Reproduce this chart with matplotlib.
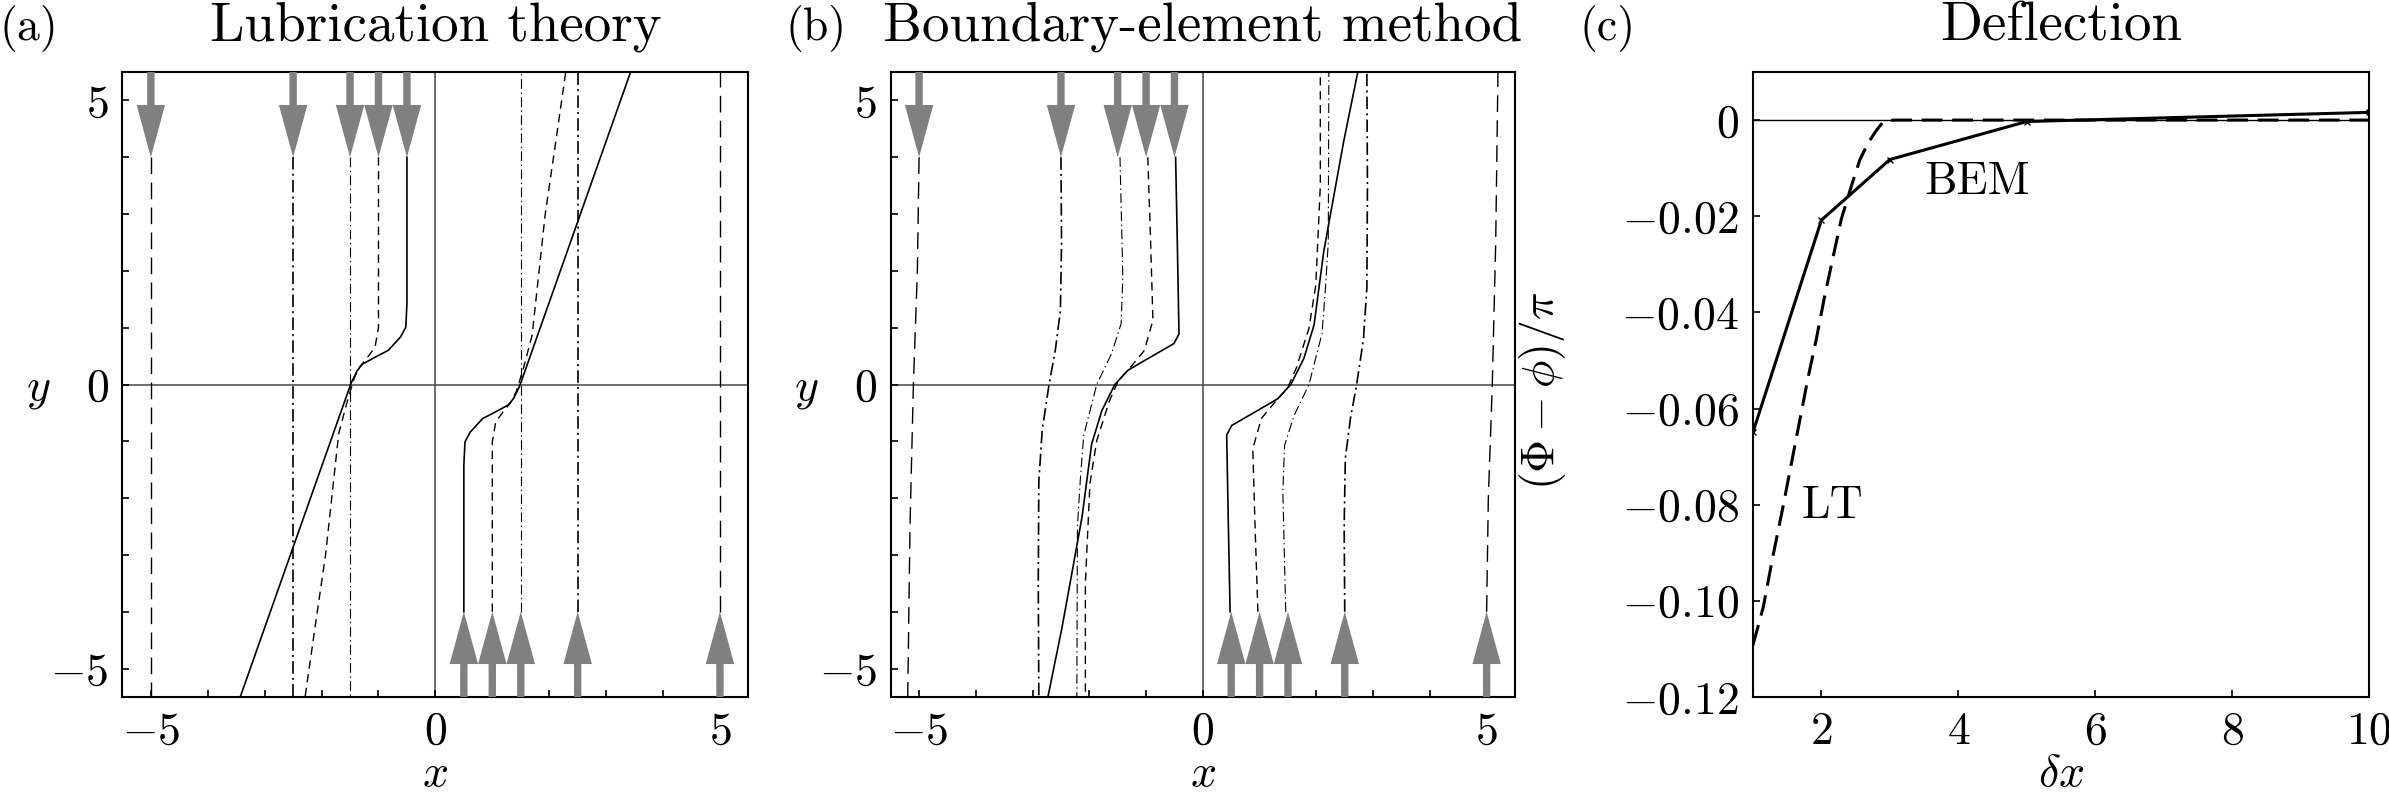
import matplotlib
matplotlib.use("Agg")
import matplotlib.pyplot as plt
from matplotlib.patches import FancyArrow

plt.rcParams['font.family'] = 'cmr10'
plt.rcParams['mathtext.fontset'] = 'cm'
plt.rcParams['axes.formatter.use_mathtext'] = True
plt.rcParams['lines.scale_dashes'] = False
plt.rcParams['font.size'] = 33

# particle separations
dx_list = [1, 2, 3, 5, 10]

# trajectories of the particle coming in from the top (x, y);
# the partner from the bottom is the same path turned by 180 degrees
lt_x = {
    1: [-0.5, -0.5, -0.52, -0.61, -0.83, -1.06, -1.28, -1.37, -1.46, -1.49, -3.43],
    2: [-1.0, -1.0, -1.06, -1.19, -1.33, -1.42, -1.46, -1.55, -1.70, -1.93, -2.09, -2.29],
    3: [-1.5, -1.5],
    5: [-2.5, -2.5],
    10: [-5.0, -5.0],
}
lt_y = {
    1: [4.0, 1.42, 1.01, 0.84, 0.6, 0.48, 0.36, 0.25, 0.07, 0.0, -5.5],
    2: [4.0, 1.01, 0.66, 0.48, 0.31, 0.13, 0.0, -0.3, -0.87, -3.0, -4.1, -5.5],
    3: [4.0, -5.5],
    5: [4.0, -5.5],
    10: [4.0, -5.5],
}
bem_x = {
    1: [-0.48, -0.45, -0.42, -0.51, -1.03, -1.32, -1.55, -1.78, -1.96, -2.13, -2.48, -2.73],
    2: [-0.97, -0.92, -0.88, -1.03, -1.32, -1.49, -1.65, -1.87, -1.99, -2.07, -2.07],
    3: [-1.46, -1.41, -1.44, -1.61, -1.87, -2.1, -2.16, -2.21, -2.22],
    5: [-2.5, -2.49, -2.51, -2.6, -2.71, -2.83, -2.89, -2.9, -2.89],
    10: [-5.0, -5.03, -5.1, -5.16, -5.2],
}
bem_y = {
    1: [4.0, 2.5, 0.89, 0.72, 0.42, 0.25, 0.0, -0.46, -1.05, -2.34, -4.27, -5.5],
    2: [4.0, 2.5, 1.13, 0.6, 0.25, 0.07, -0.3, -0.99, -1.75, -3.5, -5.5],
    3: [4.0, 1.89, 1.07, 0.54, 0.0, -0.9, -1.69, -2.5, -5.5],
    5: [4.0, 2.5, 1.3, 0.6, 0.0, -0.8, -1.7, -3.5, -5.5],
    10: [4.0, 2.0, 0.0, -2.5, -5.5],
}

# deflection (Phi - phi)/pi against separation
bem_dx = [1, 2, 3, 5, 10]
bem_dev = [-0.0649, -0.0208, -0.0082, -0.0003, 0.0016]
lt_dx = [1.0, 1.15, 1.29, 1.44, 1.56, 1.68, 1.80, 1.93, 2.05, 2.17, 2.29,
         2.44, 2.56, 2.68, 2.80, 2.90, 3.05, 5.0, 10.0]
lt_dev = [-0.1092, -0.1013, -0.0908, -0.0803, -0.0715, -0.0627, -0.0539,
          -0.0452, -0.0364, -0.0285, -0.0206, -0.0136, -0.0083, -0.0048,
          -0.0022, -0.0004, 0.0, 0.0, 0.0]

styles = {
    1: dict(ls='-', lw=1.2),
    2: dict(ls=(0, (6, 4)), lw=1.0),
    3: dict(ls=(0, (7, 2.5, 1, 2.5)), lw=0.8),
    5: dict(ls=(0, (9, 3, 1.5, 3)), lw=1.2),
    10: dict(ls=(0, (12, 6)), lw=1.0),
}

W, H = 2389, 796
fig = plt.figure(figsize=(W / 100, H / 100), dpi=100)
bot = (H - 697) / H
hgt = 625 / H
ax_a = fig.add_axes([122.4 / W, bot, 626 / W, hgt])
ax_b = fig.add_axes([890.7 / W, bot, 624.3 / W, hgt])
ax_c = fig.add_axes([1753 / W, bot, 616 / W, hgt])

xlab_y = -0.142


def style_axes(ax):
    for s in ax.spines.values():
        s.set_linewidth(1.5)
    ax.tick_params(which='both', direction='in', length=5, width=1.2,
                   top=False, right=False, pad=10)


def trajectories(ax, xs, ys, title):
    ax.axhline(0, color='#555555', lw=1.2, zorder=1)
    ax.axvline(0, color='#555555', lw=1.2, zorder=1)
    for d in dx_list:
        x = xs[d]
        y = ys[d]
        ax.plot(x, y, color='k', zorder=2, **styles[d])
        ax.plot([-v for v in x], [-v for v in y], color='k', zorder=2, **styles[d])
        ax.add_patch(FancyArrow(-d / 2, 5.5, 0, -1.5, width=0.13, head_width=0.5,
                                head_length=0.92, length_includes_head=True,
                                color='#808080', lw=0, zorder=4))
        ax.add_patch(FancyArrow(d / 2, -5.5, 0, 1.5, width=0.13, head_width=0.5,
                                head_length=0.92, length_includes_head=True,
                                color='#808080', lw=0, zorder=4))
    ax.set_xlim(-5.5, 5.5)
    ax.set_ylim(-5.5, 5.5)
    ax.set_xticks([-5, 0, 5], ['$-5$', '$0$', '$5$'])
    ax.set_yticks([-5, 0, 5], ['$-5$', '$0$', '$5$'])
    ax.set_xticks(range(-5, 6), minor=True)
    ax.set_yticks(range(-5, 6), minor=True)
    style_axes(ax)
    ax.set_xlabel('$x$')
    ax.xaxis.set_label_coords(0.5, xlab_y)
    ax.xaxis.label.set_va('baseline')
    ax.set_ylabel('$y$', rotation=0, va='center_baseline', ha='center')
    ax.yaxis.set_label_coords(-0.135, 0.5)
    ax.set_title(title, pad=23)


trajectories(ax_a, lt_x, lt_y, 'Lubrication theory')
trajectories(ax_b, bem_x, bem_y, 'Boundary-element method')

ax_c.axhline(0, color='k', lw=1.0, zorder=1)
ax_c.plot(lt_dx, lt_dev, color='k', lw=2.2, ls=(0, (15, 7)), zorder=2)
ax_c.plot(bem_dx, bem_dev, color='k', lw=2.2, marker='x', ms=5, mew=1, zorder=3)
ax_c.text(4.28, -0.0129, 'BEM', ha='center', va='center')
ax_c.text(2.16, -0.0804, 'LT', ha='center', va='center')
ax_c.set_xlim(1, 10)
ax_c.set_ylim(-0.12, 0.01)
ax_c.set_xticks([2, 4, 6, 8, 10], ['$2$', '$4$', '$6$', '$8$', '$10$'])
yt = [-0.12, -0.10, -0.08, -0.06, -0.04, -0.02, 0]
ax_c.set_yticks(yt, ['$%.2f$' % v if v != 0 else '$0$' for v in yt])
style_axes(ax_c)
ax_c.set_xlabel(r'$\delta x$')
ax_c.xaxis.set_label_coords(0.5, xlab_y)
ax_c.xaxis.label.set_va('baseline')
ax_c.set_ylabel(r'$(\Phi-\phi)/\pi$')
ax_c.yaxis.set_label_coords(-0.30, 0.49)
ax_c.set_title('Deflection', pad=23)

base = 1 - 40 / H
fig.text(0 / W, base, '(a)', va='baseline', ha='left')
fig.text(785 / W, base, '(b)', va='baseline', ha='left')
fig.text(1579 / W, base, '(c)', va='baseline', ha='left')

fig.savefig('out.png', dpi=100)
